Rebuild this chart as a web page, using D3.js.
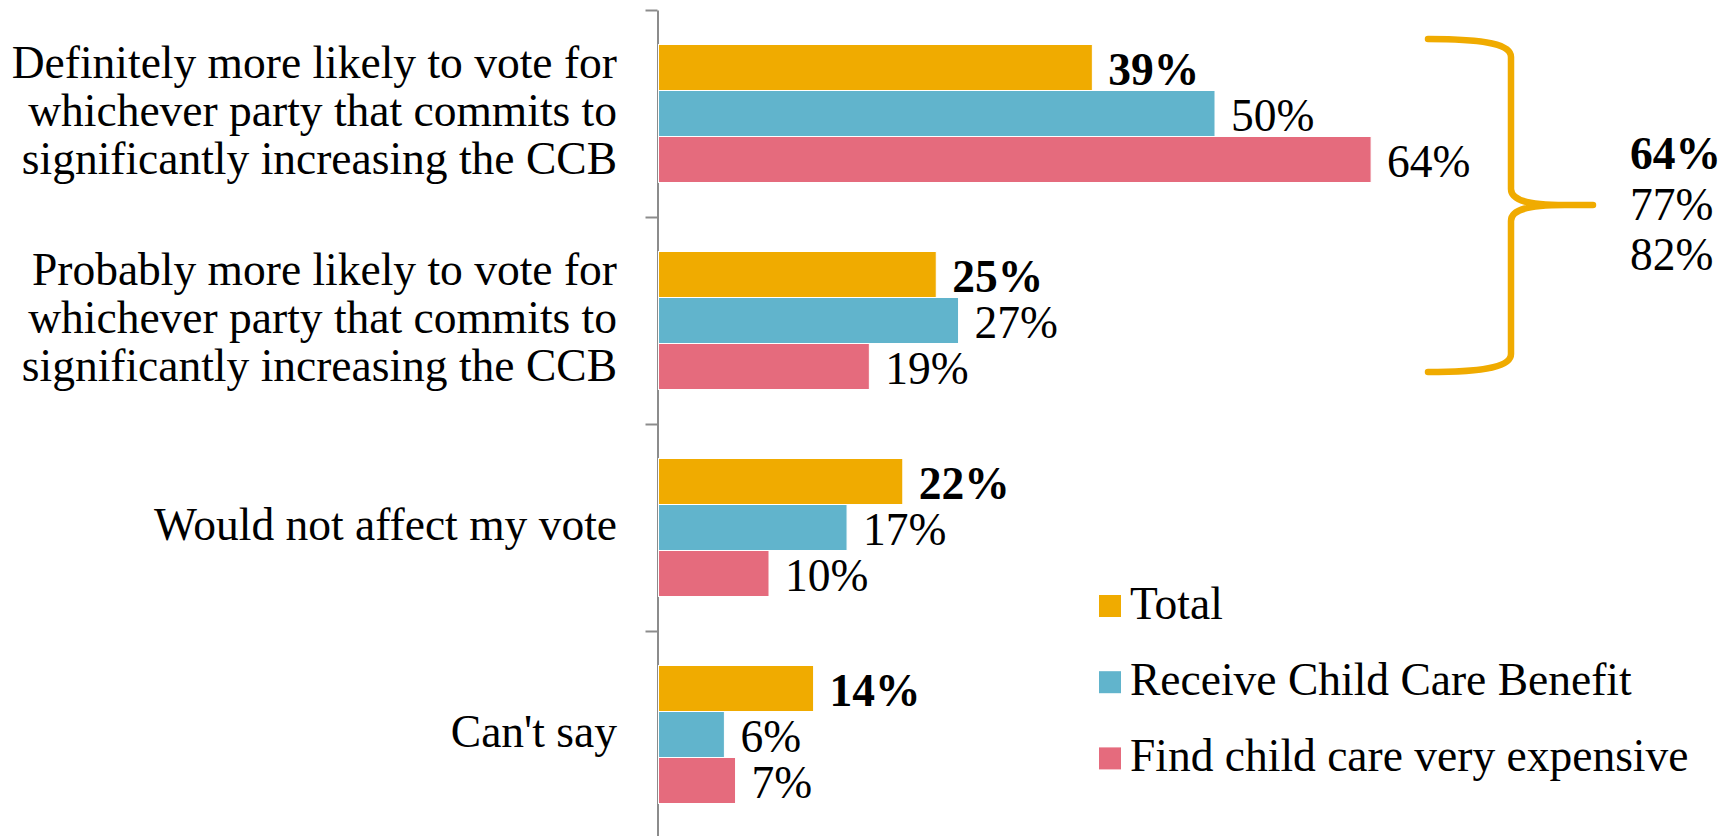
<!DOCTYPE html>
<html>
<head>
<meta charset="utf-8">
<script src="https://cdn.jsdelivr.net/npm/d3@7"></script>
<style>
  body { margin: 0; background: #fff; }
  text { font-family: "Liberation Serif", "Times New Roman", serif; fill: #000; }
</style>
</head>
<body>
<svg id="chart"></svg>
<script>
var categories = [
    ["Definitely more likely to vote for", "whichever party that commits to", "significantly increasing the CCB"],
    ["Probably more likely to vote for", "whichever party that commits to", "significantly increasing the CCB"],
    ["Would not affect my vote"],
    ["Can't say"]
];
var seriesNames = ["Total", "Receive Child Care Benefit", "Find child care very expensive"];
var totalValues = [39, 25, 22, 14];
var receiveValues = [50, 27, 17, 6];
var expensiveValues = [64, 19, 10, 7];
var combinedLabels = ["64%", "77%", "82%"];
var colors = ["#f0ab00", "#61b4cc", "#e56b7d"];

var width = 1736, height = 836;
var fontSize = 45.5;

var svg = d3.select("#chart")
    .attr("width", width)
    .attr("height", height);

var series = [totalValues, receiveValues, expensiveValues];
var catIndex = d3.range(categories.length);

var x0 = 657.5;
var xScale = d3.scaleLinear()
    .domain([0, 100])
    .range([x0, x0 + 1115]);

var yScale = d3.scaleBand()
    .domain(catIndex)
    .range([10, 838])
    .paddingInner(1 / 3)
    .paddingOuter(1 / 6);

var ySub = d3.scaleBand()
    .domain(d3.range(series.length))
    .range([0, yScale.bandwidth()]);

// axis, ticks sit between the groups
var edgeScale = d3.scaleLinear()
    .domain([0, categories.length])
    .range([10, 838]);

var yAxis = d3.axisLeft(edgeScale)
    .tickValues(d3.range(categories.length + 1))
    .tickFormat("")
    .tickSize(12)
    .tickSizeOuter(0);

var axisG = svg.append("g")
    .attr("class", "y axis")
    .attr("transform", "translate(" + x0 + ",0)")
    .call(yAxis);
axisG.selectAll("path, line")
    .attr("stroke", "#8c8c8c")
    .attr("stroke-width", 2);

// bars
var groups = svg.selectAll(".group")
    .data(catIndex)
    .enter().append("g")
    .attr("class", "group")
    .attr("transform", function(d) { return "translate(0," + yScale(d) + ")"; });

groups.selectAll("rect")
    .data(function(c) { return series.map(function(s, i) { return {s: i, v: s[c]}; }); })
    .enter().append("rect")
    .attr("x", xScale(0) + 1)
    .attr("y", function(d) { return ySub(d.s); })
    .attr("width", function(d) { return xScale(d.v) - xScale(0) - 1; })
    .attr("height", ySub.bandwidth())
    .style("fill", function(d) { return colors[d.s]; })
    .style("stroke", "#fff")
    .style("stroke-width", 1);

groups.selectAll(".val")
    .data(function(c) { return series.map(function(s, i) { return {s: i, v: s[c]}; }); })
    .enter().append("text")
    .attr("class", "val")
    .attr("x", function(d) { return xScale(d.v) + 16; })
    .attr("y", function(d) { return ySub(d.s) + ySub.bandwidth() / 2 + 17; })
    .style("font-size", fontSize + "px")
    .style("font-weight", function(d) { return d.s === 0 ? "bold" : "normal"; })
    .text(function(d) { return d.v + "%"; });

// category labels
var lineH = 48;
svg.selectAll(".cat")
    .data(catIndex)
    .enter().append("text")
    .attr("class", "cat")
    .style("font-size", fontSize + "px")
    .style("text-anchor", "end")
    .each(function(c) {
        var lines = categories[c];
        var cy = edgeScale(c + 0.5) + 12 - (lines.length - 1) * lineH / 2;
        d3.select(this).selectAll("tspan")
            .data(lines)
            .enter().append("tspan")
            .attr("x", 617)
            .attr("y", function(d, i) { return cy + i * lineH; })
            .text(function(d) { return d; });
    });

// brace around the first two groups
var bx = 1511, tipX = 1593, topY = 39, botY = 372, midY = 205;
var brace = "M1428," + topY +
    " C1488," + topY + " " + bx + "," + (topY + 6) + " " + bx + "," + (topY + 18) +
    " L" + bx + "," + (midY - 16) +
    " C" + bx + "," + (midY - 4) + " 1530," + midY + " 1565," + midY +
    " L" + tipX + "," + midY +
    " M1565," + midY +
    " C1530," + midY + " " + bx + "," + (midY + 4) + " " + bx + "," + (midY + 16) +
    " L" + bx + "," + (botY - 18) +
    " C" + bx + "," + (botY - 6) + " 1488," + botY + " 1428," + botY;

svg.append("path")
    .attr("d", brace)
    .attr("fill", "none")
    .attr("stroke", colors[0])
    .attr("stroke-width", 6.5)
    .attr("stroke-linecap", "round");

svg.selectAll(".combined")
    .data(combinedLabels)
    .enter().append("text")
    .attr("class", "combined")
    .attr("x", 1630)
    .attr("y", function(d, i) { return 169 + i * 50.5; })
    .style("font-size", fontSize + "px")
    .style("font-weight", function(d, i) { return i === 0 ? "bold" : "normal"; })
    .text(function(d) { return d; });

// legend
var legend = svg.selectAll(".legend")
    .data(seriesNames)
    .enter().append("g")
    .attr("class", "legend")
    .attr("transform", function(d, i) { return "translate(1099," + (595 + i * 76.2) + ")"; });

legend.append("rect")
    .attr("width", 22)
    .attr("height", 22)
    .style("fill", function(d, i) { return colors[i]; });

legend.append("text")
    .attr("x", 31)
    .attr("y", 24)
    .style("font-size", fontSize + "px")
    .text(function(d) { return d; });
</script>
</body>
</html>
